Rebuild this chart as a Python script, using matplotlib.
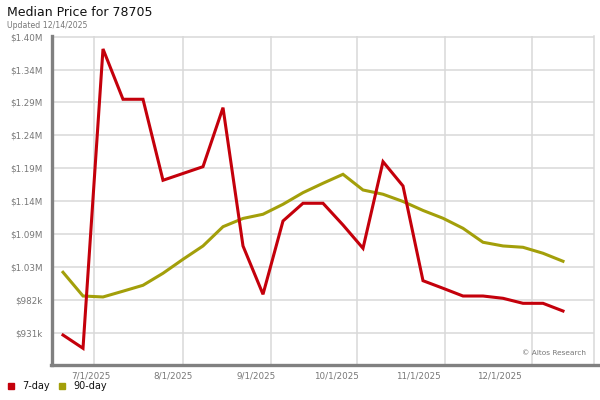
import matplotlib
matplotlib.use("Agg")
import matplotlib.pyplot as plt
from matplotlib.lines import Line2D
from matplotlib.patches import Rectangle

# weekly data points (index along x), values in $k
week_index = list(range(26))
price_7day = [926.8, 905.9, 1377.1, 1297.9, 1297.9, 1170.4, 1181.1, 1191.8, 1284.7, 1067.0,
              990.9, 1106.3, 1134.2, 1134.2, 1100.0, 1063.3, 1199.7, 1161.4, 1012.3, 1000.4,
              988.2, 988.2, 984.6, 976.7, 976.7, 964.6]
price_90day = [1025.6, 988.2, 986.7, 995.8, 1005.1, 1024.0, 1046.0, 1067.0, 1097.3, 1110.3,
               1116.9, 1132.6, 1150.9, 1165.7, 1179.8, 1155.1, 1148.4, 1137.0, 1122.9, 1110.6,
               1094.8, 1072.8, 1067.0, 1064.9, 1055.5, 1042.9]

y_tick_values = [930.3 + 51.8 * k for k in range(10)]
y_tick_labels = ["$931k", "$982k", "$1.03M", "$1.09M", "$1.14M",
                 "$1.19M", "$1.24M", "$1.29M", "$1.34M", "$1.40M"]
x_label_pos = [1.4, 5.5, 9.65, 13.65, 17.75, 21.8]
x_labels = ["7/1/2025", "8/1/2025", "9/1/2025", "10/1/2025", "11/1/2025", "12/1/2025"]
x_grid_pos = [1.55, 6.0, 10.4, 14.7, 19.1, 23.45]

RED = "#c4000b"
OLIVE = "#a39f0a"
GRID = "#d9d9d9"
AXIS = "#808080"
TEXT_GRAY = "#777777"


def main():
    fig = plt.figure(figsize=(6, 4), dpi=100)
    ax = fig.add_axes([52 / 600, 1 - 365 / 400, 542 / 600, 329 / 400])

    ax.plot(week_index, price_90day, color=OLIVE, lw=2.2, solid_joinstyle="miter", zorder=3)
    ax.plot(week_index, price_7day, color=RED, lw=2.2, solid_joinstyle="miter", zorder=4)

    ax.set_xlim(-0.55, 26.55)
    ax.set_ylim(879.6, 1397.5)

    # y axis
    ax.set_yticks(y_tick_values)
    ax.set_yticklabels(y_tick_labels)
    ax.yaxis.grid(True, color=GRID, lw=1.1)
    # x axis: labels and gridlines sit at different places
    ax.set_xticks(x_label_pos)
    ax.set_xticklabels(x_labels)
    ax.set_xticks(x_grid_pos, minor=True)
    ax.xaxis.grid(True, which="minor", color=GRID, lw=1.1)
    ax.set_axisbelow(True)

    ax.tick_params(axis="both", which="both", length=0, labelsize=6.3, labelcolor=TEXT_GRAY)
    ax.tick_params(axis="x", pad=5)
    ax.tick_params(axis="y", pad=7)

    ax.spines["top"].set_visible(False)
    ax.spines["right"].set_color(GRID)
    ax.spines["right"].set_linewidth(1.1)
    ax.spines["left"].set_color(AXIS)
    ax.spines["left"].set_linewidth(2.4)
    ax.spines["bottom"].set_visible(False)

    # bottom axis line runs to the right edge of the picture
    fig.add_artist(Line2D([51 / 600, 1.0], [1 - 365 / 400] * 2, color=AXIS, lw=2.4,
                          transform=fig.transFigure))

    ax.text(0.985, 0.035, "\u00a9 Altos Research", transform=ax.transAxes,
            ha="right", va="center", fontsize=5.3, color=TEXT_GRAY)

    # title
    fig.text(7 / 600, 1 - 12 / 400, "Median Price for 78705", fontsize=9,
             ha="left", va="center", color="#111111")
    fig.text(7 / 600, 1 - 25 / 400, "Updated 12/14/2025", fontsize=5.6,
             ha="left", va="center", color=TEXT_GRAY)

    # legend
    fig.add_artist(Rectangle((8 / 600, 1 - 389 / 400), 6 / 600, 6 / 400, color=RED,
                             transform=fig.transFigure))
    fig.text(22 / 600, 1 - 386 / 400, "7-day", fontsize=7, color="#111111", ha="left", va="center")
    fig.add_artist(Rectangle((59 / 600, 1 - 389 / 400), 6 / 600, 6 / 400, color=OLIVE,
                             transform=fig.transFigure))
    fig.text(73 / 600, 1 - 386 / 400, "90-day", fontsize=7, color="#111111", ha="left", va="center")

    fig.savefig("out.png", dpi=100)


if __name__ == '__main__':
    main()
